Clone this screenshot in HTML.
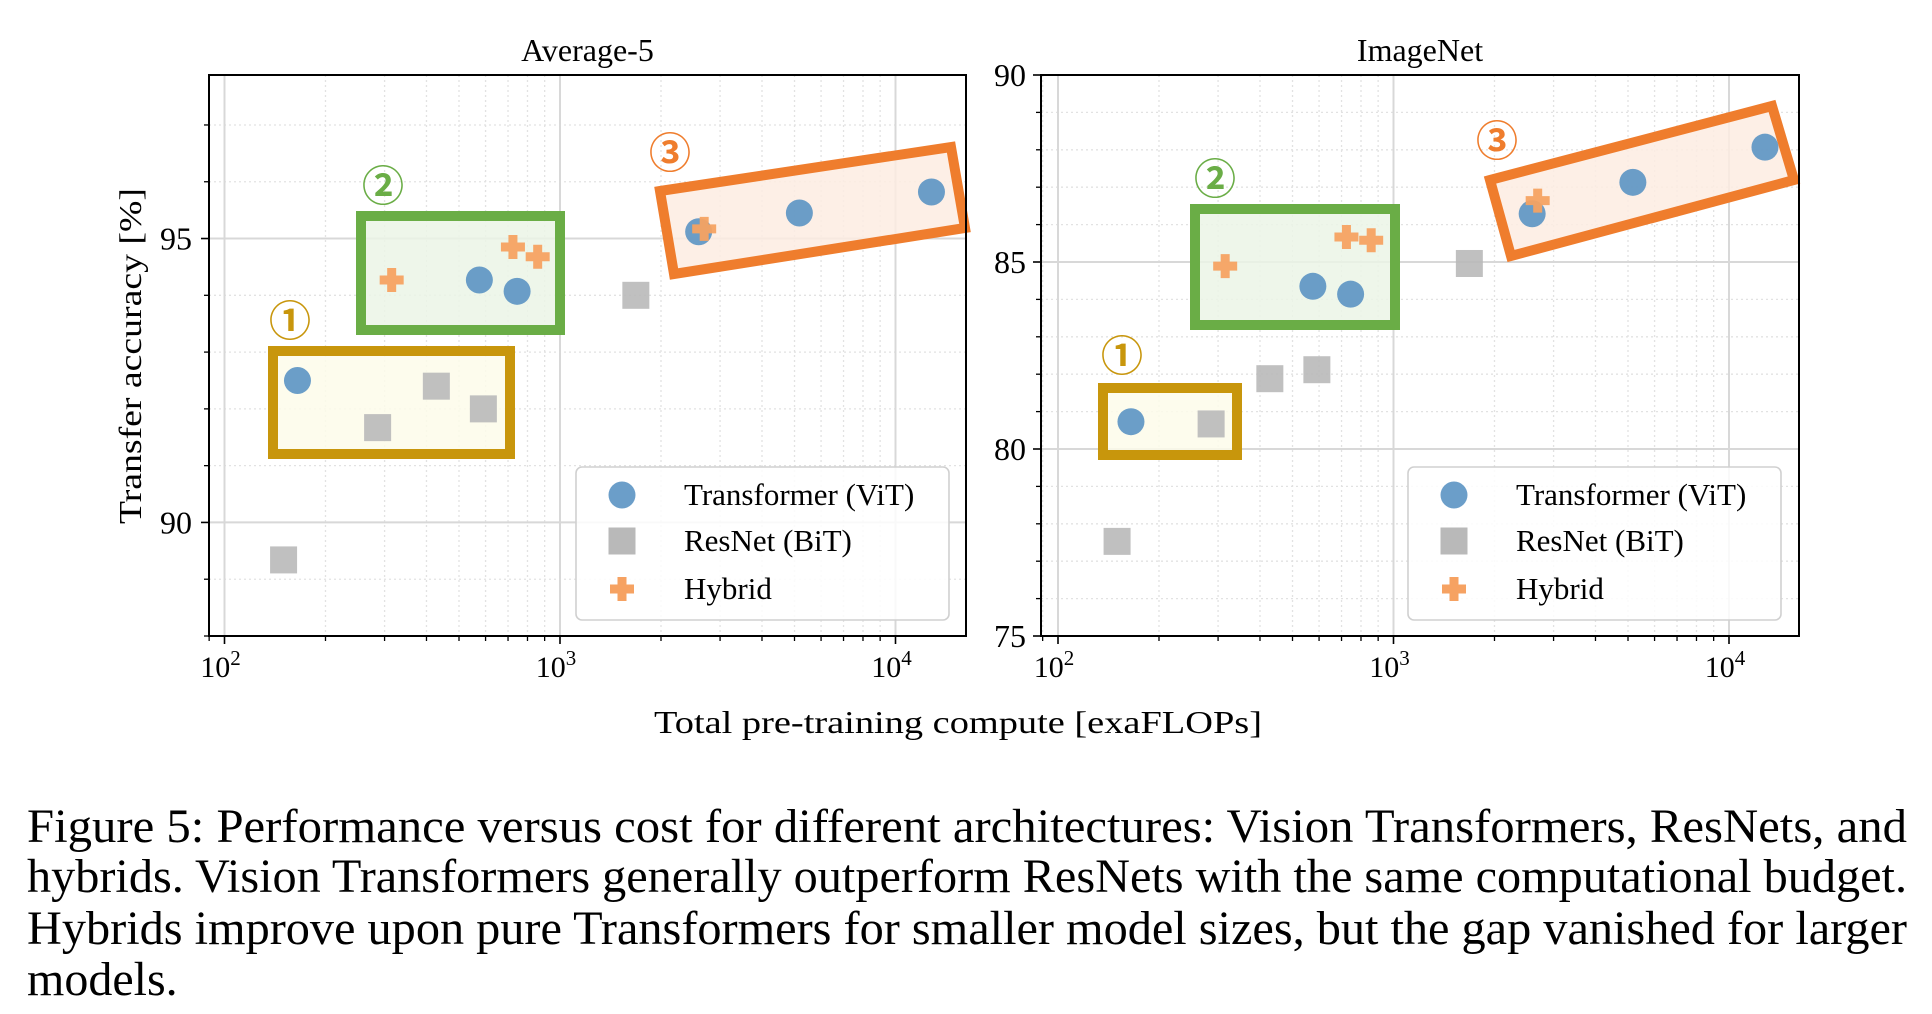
<!DOCTYPE html>
<html><head><meta charset="utf-8"><style>
html,body{margin:0;padding:0;background:#fff;}
svg{display:block;font-family:"Liberation Serif","Times New Roman","DejaVu Serif",serif;}
</style></head><body>
<svg id="fig" width="1932" height="1014" viewBox="0 0 1932 1014" xmlns="http://www.w3.org/2000/svg">
<g id="grids"></g>
<g id="annots"></g>
<g id="marks"></g>
<g id="axes"></g>
<g id="legends"></g>
<text x="0" y="0" transform="translate(141,356) rotate(-90)" text-anchor="middle" font-size="32" textLength="336" lengthAdjust="spacingAndGlyphs">Transfer accuracy [%]</text>
<text x="958" y="733" text-anchor="middle" font-size="32" textLength="608" lengthAdjust="spacingAndGlyphs">Total pre-training compute [exaFLOPs]</text>
<g font-size="48">
<text x="27" y="842" textLength="1880" lengthAdjust="spacingAndGlyphs">Figure 5:  Performance versus cost for different architectures:  Vision Transformers, ResNets, and</text>
<text x="27" y="892" textLength="1880" lengthAdjust="spacingAndGlyphs">hybrids.  Vision Transformers generally outperform ResNets with the same computational budget.</text>
<text x="27" y="944" textLength="1880" lengthAdjust="spacingAndGlyphs">Hybrids improve upon pure Transformers for smaller model sizes, but the gap vanished for larger</text>
<text x="27" y="995">models.</text>
</g>
</svg>
<script>
// Shared compute (x) values
const vitX = [165, 575, 745, 2590, 5170, 12800];
const resX = [150, 286, 428, 591, 1683];
const hybX = [315, 724, 858, 2690];
// Average-5 panel
const avgVit = [92.5, 94.27, 94.07, 95.12, 95.45, 95.82];
const avgRes = [89.34, 91.67, 92.4, 92.0, 94.0];
const avgHyb = [94.27, 94.85, 94.68, 95.17];
const avgYTicks = [90, 95];
// ImageNet panel
const inVit = [80.73, 84.35, 84.14, 86.29, 87.13, 88.07];
const inRes = [77.53, 80.67, 81.88, 82.12, 84.96];
const inHyb = [84.89, 85.67, 85.58, 86.64];
const inYTicks = [75, 80, 85, 90];
const xTickExps = [2, 3, 4];
const legendLabels = ["Transformer (ViT)", "ResNet (BiT)", "Hybrid"];

const NS = "http://www.w3.org/2000/svg";
function mk(parent, tag, attrs, text) {
  const e = document.createElementNS(NS, tag);
  for (const k in attrs) e.setAttribute(k, attrs[k]);
  if (text !== undefined) e.textContent = text;
  parent.appendChild(e);
  return e;
}
const G = id => document.getElementById(id);

function panel(cfg) {
  const {L, R, T, B, x0, ymin, ymax, vit, res, hyb, yTicks, title, tag, labelRight, legendX} = cfg;
  const decade = 335.5;
  const xs = v => x0 + (Math.log10(v) - 2) * decade;
  const ys = v => B - (v - ymin) / (ymax - ymin) * (B - T);
  const grids = G('grids'), marks = G('marks'), axes = G('axes');
  for (let v = Math.ceil(ymin); v <= ymax; v++) {
    const y = ys(v);
    if (yTicks.includes(v)) continue;
    const ln = mk(grids, 'line', {x1: L, x2: R, y1: y, y2: y, stroke: '#e2e2e2', 'stroke-width': 1.3, 'stroke-dasharray': '2 3'});
    
    
    mk(axes, 'line', {x1: L - 5, x2: L, y1: y, y2: y, stroke: '#000', 'stroke-width': 1.3});
  }
  for (let e = 1; e <= 4; e++) for (let m = 2; m <= 9; m++) {
    const v = m * Math.pow(10, e);
    const x = xs(v);
    if (x < L || x > R) continue;
    const ln = mk(grids, 'line', {x1: x, x2: x, y1: T, y2: B, stroke: '#e2e2e2', 'stroke-width': 1.3, 'stroke-dasharray': '2 3'});
    
    
    mk(axes, 'line', {x1: x, x2: x, y1: B, y2: B + 5, stroke: '#000', 'stroke-width': 1.3});
  }
  yTicks.forEach(v => {
    const y = ys(v);
    const ln = mk(grids, 'line', {x1: L, x2: R, y1: y, y2: y, stroke: '#d8d8d8', 'stroke-width': 2});
    
    
    mk(axes, 'line', {x1: L - 8, x2: L, y1: y, y2: y, stroke: '#000', 'stroke-width': 1.6});
    const t = mk(axes, 'text', {x: labelRight, y: y + 11, 'text-anchor': 'end', 'font-size': 32}, String(v));
    
    
  });
  xTickExps.forEach(e => {
    const x = xs(Math.pow(10, e));
    const ln = mk(grids, 'line', {x1: x, x2: x, y1: T, y2: B, stroke: '#d8d8d8', 'stroke-width': 2});
    
    
    mk(axes, 'line', {x1: x, x2: x, y1: B, y2: B + 8, stroke: '#000', 'stroke-width': 1.6});
    const t = mk(axes, 'text', {x: x - 4, y: 677, 'text-anchor': 'middle', 'font-size': 30}, '10');
    
    
    mk(t, 'tspan', {dy: -12, 'font-size': 21}, String(e));
  });
  const fr = mk(axes, 'rect', {x: L, y: T, width: R - L, height: B - T, fill: 'none', stroke: '#000', 'stroke-width': 2});
  
  
  const tt = mk(axes, 'text', {x: (L + R) / 2, y: 61, 'text-anchor': 'middle', 'font-size': 32}, title);
  
  
  res.forEach((v, i) => {
    const x = xs(resX[i]), y = ys(v);
    const r = mk(marks, 'rect', {x: x - 13.5, y: y - 13.5, width: 27, height: 27, fill: '#b9b9b9', opacity: 0.9});
    
    
  });
  vit.forEach((v, i) => {
    const c = mk(marks, 'circle', {cx: xs(vitX[i]), cy: ys(v), r: 13.5, fill: '#5b93c3', opacity: 0.9});
    
    
  });
  hyb.forEach((v, i) => {
    const x = xs(hybX[i]), y = ys(v);
    const p = mk(marks, 'path', {d: `M${x-4.5},${y-12}h9v7.5h7.5v9h-7.5v7.5h-9v-7.5h-7.5v-9h7.5z`, fill: '#f6a262', opacity: 0.95});
    
    
  });
  const lg = G('legends');
  const box = mk(lg, 'rect', {x: legendX, y: 467, width: 373, height: 153, rx: 6, fill: '#fff', 'fill-opacity': 0.85, stroke: '#d0d0d0', 'stroke-width': 1.6});
  
  
  const mx = legendX + 46, tx = legendX + 108;
  const rowsY = [495, 541, 589];
  mk(lg, 'circle', {cx: mx, cy: rowsY[0], r: 13.5, fill: '#5b93c3', opacity: 0.9});
  mk(lg, 'rect', {x: mx - 13.5, y: rowsY[1] - 13.5, width: 27, height: 27, fill: '#b9b9b9'});
  mk(lg, 'path', {d: `M${mx-4.5},${rowsY[2]-12}h9v7.5h7.5v9h-7.5v7.5h-9v-7.5h-7.5v-9h7.5z`, fill: '#f6a262'});
  legendLabels.forEach((s, i) => {
    const t = mk(lg, 'text', {x: tx, y: rowsY[i] + 10, 'font-size': 31}, s);
    
    
  });
}

panel({L: 209, R: 966, T: 75, B: 636, x0: 224.5, ymin: 88.0, ymax: 97.88, vit: avgVit, res: avgRes, hyb: avgHyb, yTicks: avgYTicks, title: 'Average-5', tag: 'average5', labelRight: 192, legendX: 576});
panel({L: 1041, R: 1799, T: 75, B: 636, x0: 1058, ymin: 75, ymax: 90, vit: inVit, res: inRes, hyb: inHyb, yTicks: inYTicks, title: 'ImageNet', tag: 'imagenet', labelRight: 1026, legendX: 1408});

const an = G('annots');
function abox(pts, stroke, fill, name) {
  const p = mk(an, 'polygon', {points: pts, fill: fill, 'fill-opacity': 0.85, stroke: stroke, 'stroke-width': 10, 'stroke-linejoin': 'miter'});
  
  
}
function alabel(x, y, s, color, name) {
  const t = mk(an, 'text', {x: x, y: y + 14, 'text-anchor': 'middle', 'font-size': 42, 'font-weight': 'bold', fill: color, 'font-family': '"Noto Sans CJK SC", sans-serif'}, s);
  
  
}
const gold = '#c8960c', green = '#6aad46', orange = '#ef7d2d';
abox('273,351 510,351 510,454 273,454', gold, '#fdfbea', 'average5-group1-box');
abox('361,216 560,216 560,330 361,330', green, '#ebf5e6', 'average5-group2-box');
abox('660,191 951,147 965,228 674,274', orange, '#fdece2', 'average5-group3-box');
abox('1103,388 1237,388 1237,455 1103,455', gold, '#fdfbea', 'imagenet-group1-box');
abox('1195,209 1395,209 1395,325 1195,325', green, '#ebf5e6', 'imagenet-group2-box');
abox('1490,180 1772,106 1794,180 1511,256', orange, '#fdece2', 'imagenet-group3-box');
alabel(290, 322, '①', gold, 'average5-group1-label');
alabel(383, 187, '②', green, 'average5-group2-label');
alabel(670, 154, '③', orange, 'average5-group3-label');
alabel(1122, 357, '①', gold, 'imagenet-group1-label');
alabel(1215, 180, '②', green, 'imagenet-group2-label');
alabel(1497, 142, '③', orange, 'imagenet-group3-label');
</script>
</body></html>
